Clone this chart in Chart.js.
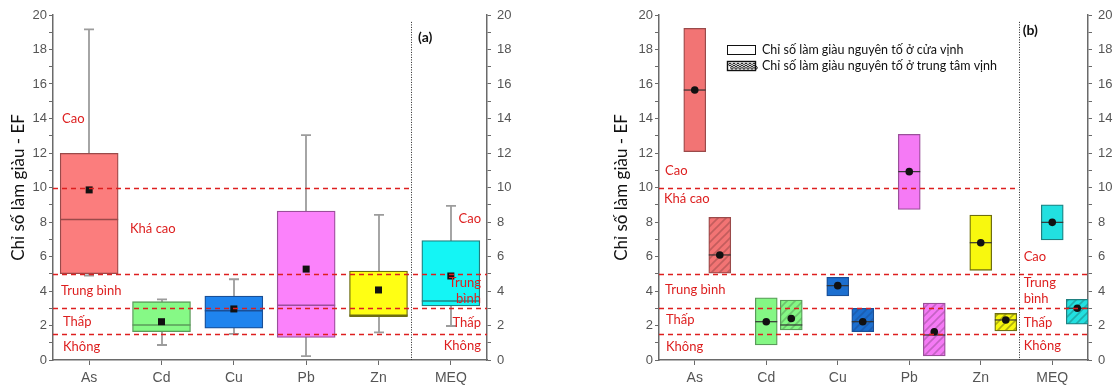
<!DOCTYPE html>
<html><head><meta charset="utf-8">
<script src="https://cdn.jsdelivr.net/npm/chart.js@4.4.1/dist/chart.umd.min.js"></script>
<style>
html,body{margin:0;padding:0;background:#fff;width:1119px;height:385px;overflow:hidden}
#wa{position:absolute;left:0;top:0;width:545px;height:385px}
#wb{position:absolute;left:600px;top:0;width:519px;height:385px}
canvas{display:block}
</style></head><body>
<div id="wa"><canvas id="ca" width="545" height="385"></canvas></div>
<div id="wb"><canvas id="cb" width="519" height="385"></canvas></div>
<script>
// ---------- data ----------
const categories = ['As','Cd','Cu','Pb','Zn','MEQ'];
const yMajorTicks = [0,2,4,6,8,10,12,14,16,18,20];
const yMinorTicks = [1,3,5,7,9,11,13,15,17,19];
const levelLines = [10,5,3,1.5];
const yTitle = 'Chỉ số làm giàu - EF';

// panel (a): box plots
const aWhiskerLow  = [4.9, 0.87, 1.51, 0.23, 1.6, 1.97];
const aQ1          = [5.0, 1.64, 1.84, 1.31, 2.51, 3.13];
const aMedian      = [8.15, 2.03, 2.86, 3.17, 2.6, 3.42];
const aQ3          = [11.98, 3.38, 3.71, 8.64, 5.16, 6.92];
const aWhiskerHigh = [19.17, 3.52, 4.68, 13.04, 8.41, 8.93];
const aMean        = [9.86, 2.22, 2.96, 5.27, 4.06, 4.87];

// panel (b): bay mouth (plain) and bay centre (hatched)
const bMouthLow     = [12.08, 0.87, 3.71, 8.73, 5.2, 6.96];
const bMouthHigh    = [19.23, 3.61, 4.79, 13.08, 8.4, 9.0];
const bMouthMedian  = [15.65, 2.22, 4.31, 10.92, 6.8, 7.98];
const bMouthMean    = [15.65, 2.22, 4.31, 10.92, 6.8, 7.98];
const bCenterLow    = [5.03, 1.74, 1.64, 0.23, 1.68, 2.07];
const bCenterHigh   = [8.27, 3.48, 3.0, 3.3, 2.7, 3.52];
const bCenterMedian = [6.09, 2.03, 2.22, 1.45, 2.32, 3.0];
const bCenterMean   = [6.09, 2.41, 2.22, 1.64, 2.32, 3.0];

const legendLabels = ['Chỉ số làm giàu nguyên tố ở cửa vịnh','Chỉ số làm giàu nguyên tố ở trung tâm vịnh'];

// ---------- styles ----------
const fillColors   = ['#fb7d7d','#86f986','#1f84ee','#fb82fb','#ffff14','#14f5f5'];
const borderColors = ['#9a4a4a','#5a9a5a','#1a4f96','#9a4f9a','#6e6e10','#1f8080'];
const bFill        = ['#f27474','#84f784','#1c6fd0','#f57af5','#f8f80e','#22e0e0'];
const RED = '#dd1f1f';
const AX = '#6a6a6a';
const LBL = '#555';

function hatch(base, line){
  const c = document.createElement('canvas'); c.width = 8; c.height = 8;
  const g = c.getContext('2d');
  g.fillStyle = base; g.fillRect(0,0,8,8);
  g.strokeStyle = line; g.lineWidth = 1.6;
  g.beginPath();
  g.moveTo(-2,10); g.lineTo(10,-2);
  g.moveTo(-2,2); g.lineTo(2,-2);
  g.moveTo(6,10); g.lineTo(10,6);
  g.stroke();
  return g.createPattern(c,'repeat');
}

function scales(titlePad, leftW, rightW){
  const tickFont = {family:'Liberation Sans', size:13};
  const yCommon = {
    type:'linear', min:0, max:20,
    afterBuildTicks: s => { s.ticks = yMajorTicks.concat(yMinorTicks).sort((a,b)=>a-b).map(v=>({value:v})); },
    grid:{drawOnChartArea:false, drawTicks:true, tickLength:4, color:AX, tickColor:AX},
    border:{display:true, color:AX, width:1.5}
  };
  return {
    x:{type:'linear', min:-0.5, max:5.5, offset:false, bounds:'data',
       afterBuildTicks: s => { s.ticks = categories.map((c,i)=>({value:i})); },
       ticks:{callback:v=>categories[v], color:LBL, font:{family:'Liberation Sans', size:14}, padding:5, autoSkip:false, maxRotation:0},
       grid:{drawOnChartArea:false, offset:false, tickLength:5, color:AX, tickColor:AX},
       border:{display:true, color:AX, width:1.5},
       afterFit: s => { s.height = 25; }},
    y:Object.assign({}, yCommon, {position:'left',
       ticks:{callback:v=> yMajorTicks.includes(v) ? String(v) : '', color:LBL, font:tickFont, padding:2, autoSkip:false},
       title:{display:true, text:yTitle, color:'#111', font:{family:'Lato', size:17}, padding:{top:titlePad, bottom:0}},
       afterFit: s => { s.width = leftW; }}),
    y2:Object.assign({}, yCommon, {position:'right',
       ticks:{callback:v=> yMajorTicks.includes(v) ? String(v) : '', color:LBL, font:tickFont, padding:6, autoSkip:false},
       afterFit: s => { s.width = rightW; }})
  };
}

function txt(ctx, s, x, y, align, color, font){
  ctx.save(); ctx.fillStyle = color; ctx.font = font; ctx.textAlign = align; ctx.textBaseline = 'middle';
  ctx.fillText(s, x, y); ctx.restore();
}

function drawLevels(chart, sepX, labelsLeft, labelsRight, rightAlign){
  const {ctx, chartArea:a, scales:{x, y}} = chart;
  const xs = x.getPixelForValue(sepX);
  ctx.save();
  ctx.strokeStyle = RED; ctx.lineWidth = 1.3; ctx.setLineDash([5,4]);
  levelLines.forEach(lv => {
    const py = Math.round(y.getPixelForValue(lv)) + 0.5;
    ctx.beginPath(); ctx.moveTo(a.left, py); ctx.lineTo(lv >= 10 ? xs : a.right, py); ctx.stroke();
  });
  ctx.strokeStyle = '#222'; ctx.lineWidth = 1; ctx.setLineDash([1,1.5]);
  ctx.beginPath(); ctx.moveTo(Math.round(xs)+0.5, y.getPixelForValue(19.6)); ctx.lineTo(Math.round(xs)+0.5, a.bottom); ctx.stroke();
  ctx.restore();
  const f = '13px Lato';
  labelsLeft.forEach(l => txt(ctx, l[0], a.left + l[1], y.getPixelForValue(l[2]), 'left', RED, f));
  labelsRight.forEach(l => {
    if (rightAlign) txt(ctx, l[0], a.right - 6, y.getPixelForValue(l[1]), 'right', RED, f);
    else txt(ctx, l[0], xs + 5, y.getPixelForValue(l[1]), 'left', RED, f);
  });
}

// ---------- panel (a) ----------
const pluginA = {
  id:'boxA',
  beforeDatasetsDraw(chart){
    const {ctx, scales:{x, y}} = chart;
    ctx.save(); ctx.strokeStyle = '#9c9c9c'; ctx.lineWidth = 1.8;
    categories.forEach((c,i) => {
      const px = Math.round(x.getPixelForValue(i));
      const yh = y.getPixelForValue(aWhiskerHigh[i]), yl = y.getPixelForValue(aWhiskerLow[i]);
      ctx.beginPath(); ctx.moveTo(px, yh); ctx.lineTo(px, yl); ctx.stroke();
      ctx.beginPath(); ctx.moveTo(px-5, yh); ctx.lineTo(px+5, yh); ctx.moveTo(px-5, yl); ctx.lineTo(px+5, yl); ctx.stroke();
    });
    ctx.restore();
  },
  afterDatasetsDraw(chart){
    const {ctx, scales:{x, y}} = chart;
    const half = 29;
    categories.forEach((c,i) => {
      const px = x.getPixelForValue(i);
      const ym = y.getPixelForValue(aMedian[i]);
      ctx.save(); ctx.strokeStyle = borderColors[i]; ctx.lineWidth = 1.5;
      ctx.beginPath(); ctx.moveTo(px-half, ym); ctx.lineTo(px+half, ym); ctx.stroke();
      const yv = y.getPixelForValue(aMean[i]);
      ctx.fillStyle = '#111'; ctx.fillRect(px-3.5, yv-3.5, 7, 7);
      ctx.restore();
    });
    drawLevels(chart, 4.45,
      [['Cao',9,13.97],['Khá cao',77,7.6],['Trung bình',8,4.0],['Thấp',10,2.2],['Không',10,0.75]],
      [['Cao',8.17],['Trung',4.46],['bình',3.54],['Thấp',2.14],['Không',0.81]], true);
    const xs = x.getPixelForValue(4.45);
    txt(ctx, '(a)', xs + 7, 37, 'left', '#111', 'bold 14px Lato');
  }
};

new Chart(document.getElementById('ca'), {
  type:'bar',
  data:{datasets:[{
    data: categories.map((c,i)=>({x:i, y:[aQ1[i], aQ3[i]]})),
    backgroundColor: fillColors, borderColor: borderColors, borderWidth:1.3,
    borderSkipped:false, barThickness:58, grouped:false
  }]},
  options:{
    responsive:false, animation:false,
    layout:{padding:{top:15, left:0, right:0, bottom:0}},
    plugins:{legend:{display:false}, tooltip:{enabled:false}},
    scales: scales(8, 53, 58)
  },
  plugins:[pluginA]
});

// ---------- panel (b) ----------
const OFF = 0.35;
const pluginB = {
  id:'boxB',
  afterDatasetsDraw(chart){
    const {ctx, scales:{x, y}} = chart;
    const half = 11;
    const marks = (pos, med, mean) => {
      const px = x.getPixelForValue(pos);
      ctx.save(); ctx.strokeStyle = '#333'; ctx.lineWidth = 1.2;
      const ym = y.getPixelForValue(med);
      ctx.beginPath(); ctx.moveTo(px-half, ym); ctx.lineTo(px+half, ym); ctx.stroke();
      const yv = y.getPixelForValue(mean);
      ctx.fillStyle = '#111'; ctx.beginPath(); ctx.arc(px, yv, 3.8, 0, Math.PI*2); ctx.fill();
      ctx.restore();
    };
    categories.forEach((c,i) => {
      marks(i, bMouthMedian[i], bMouthMean[i]);
      marks(i + OFF, bCenterMedian[i], bCenterMean[i]);
    });
    drawLevels(chart, 4.53,
      [['Cao',6,10.96],['Khá cao',5,9.33],['Trung bình',6,4.06],['Thấp',7,2.32],['Không',7,0.75]],
      [['Cao',5.97],['Trung',4.46],['bình',3.54],['Thấp',2.14],['Không',0.81]], false);
    const xs = x.getPixelForValue(4.53);
    txt(ctx, '(b)', xs + 4, 30, 'left', '#111', 'bold 14px Lato');
    // legend
    const lx = 127, ly = [50, 66];
    ctx.save();
    ctx.strokeStyle = '#111'; ctx.lineWidth = 1;
    ctx.fillStyle = '#fff';
    ctx.fillRect(lx+0.5, ly[0]-4.5, 28, 9); ctx.strokeRect(lx+0.5, ly[0]-4.5, 28, 9);
    ctx.fillRect(lx+0.5, ly[1]-4.5, 28, 9);
    for (let k = 0; k < 7; k++) {
      ctx.beginPath(); ctx.arc(lx + 3 + k*4, ly[1]-1.5, 1.3, 0, Math.PI*2); ctx.stroke();
      ctx.beginPath(); ctx.arc(lx + 5 + k*4, ly[1]+1.8, 1.3, 0, Math.PI*2); ctx.stroke();
    }
    ctx.lineWidth = 1.4;
    ctx.strokeRect(lx+0.5, ly[1]-4.5, 28, 9);
    ctx.restore();
    legendLabels.forEach((t,k) => txt(ctx, t, lx + 35, ly[k], 'left', '#111', '12.5px Lato'));
  }
};

new Chart(document.getElementById('cb'), {
  type:'bar',
  data:{datasets:[
    {
      data: categories.map((c,i)=>({x:i, y:[bMouthLow[i], bMouthHigh[i]]})),
      backgroundColor: bFill, borderColor: borderColors, borderWidth:1.3,
      borderSkipped:false, barThickness:22, grouped:false
    },
    {
      data: categories.map((c,i)=>({x:i+OFF, y:[bCenterLow[i], bCenterHigh[i]]})),
      backgroundColor: bFill.map((c,i)=>hatch(c, borderColors[i] + '88')), borderColor: borderColors, borderWidth:1.3,
      borderSkipped:false, barThickness:22, grouped:false
    }
  ]},
  options:{
    responsive:false, animation:false,
    layout:{padding:{top:15, left:0, right:0, bottom:0}},
    plugins:{legend:{display:false}, tooltip:{enabled:false}},
    scales: scales(11.5, 59, 31)
  },
  plugins:[pluginB]
});
</script>
</body></html>
